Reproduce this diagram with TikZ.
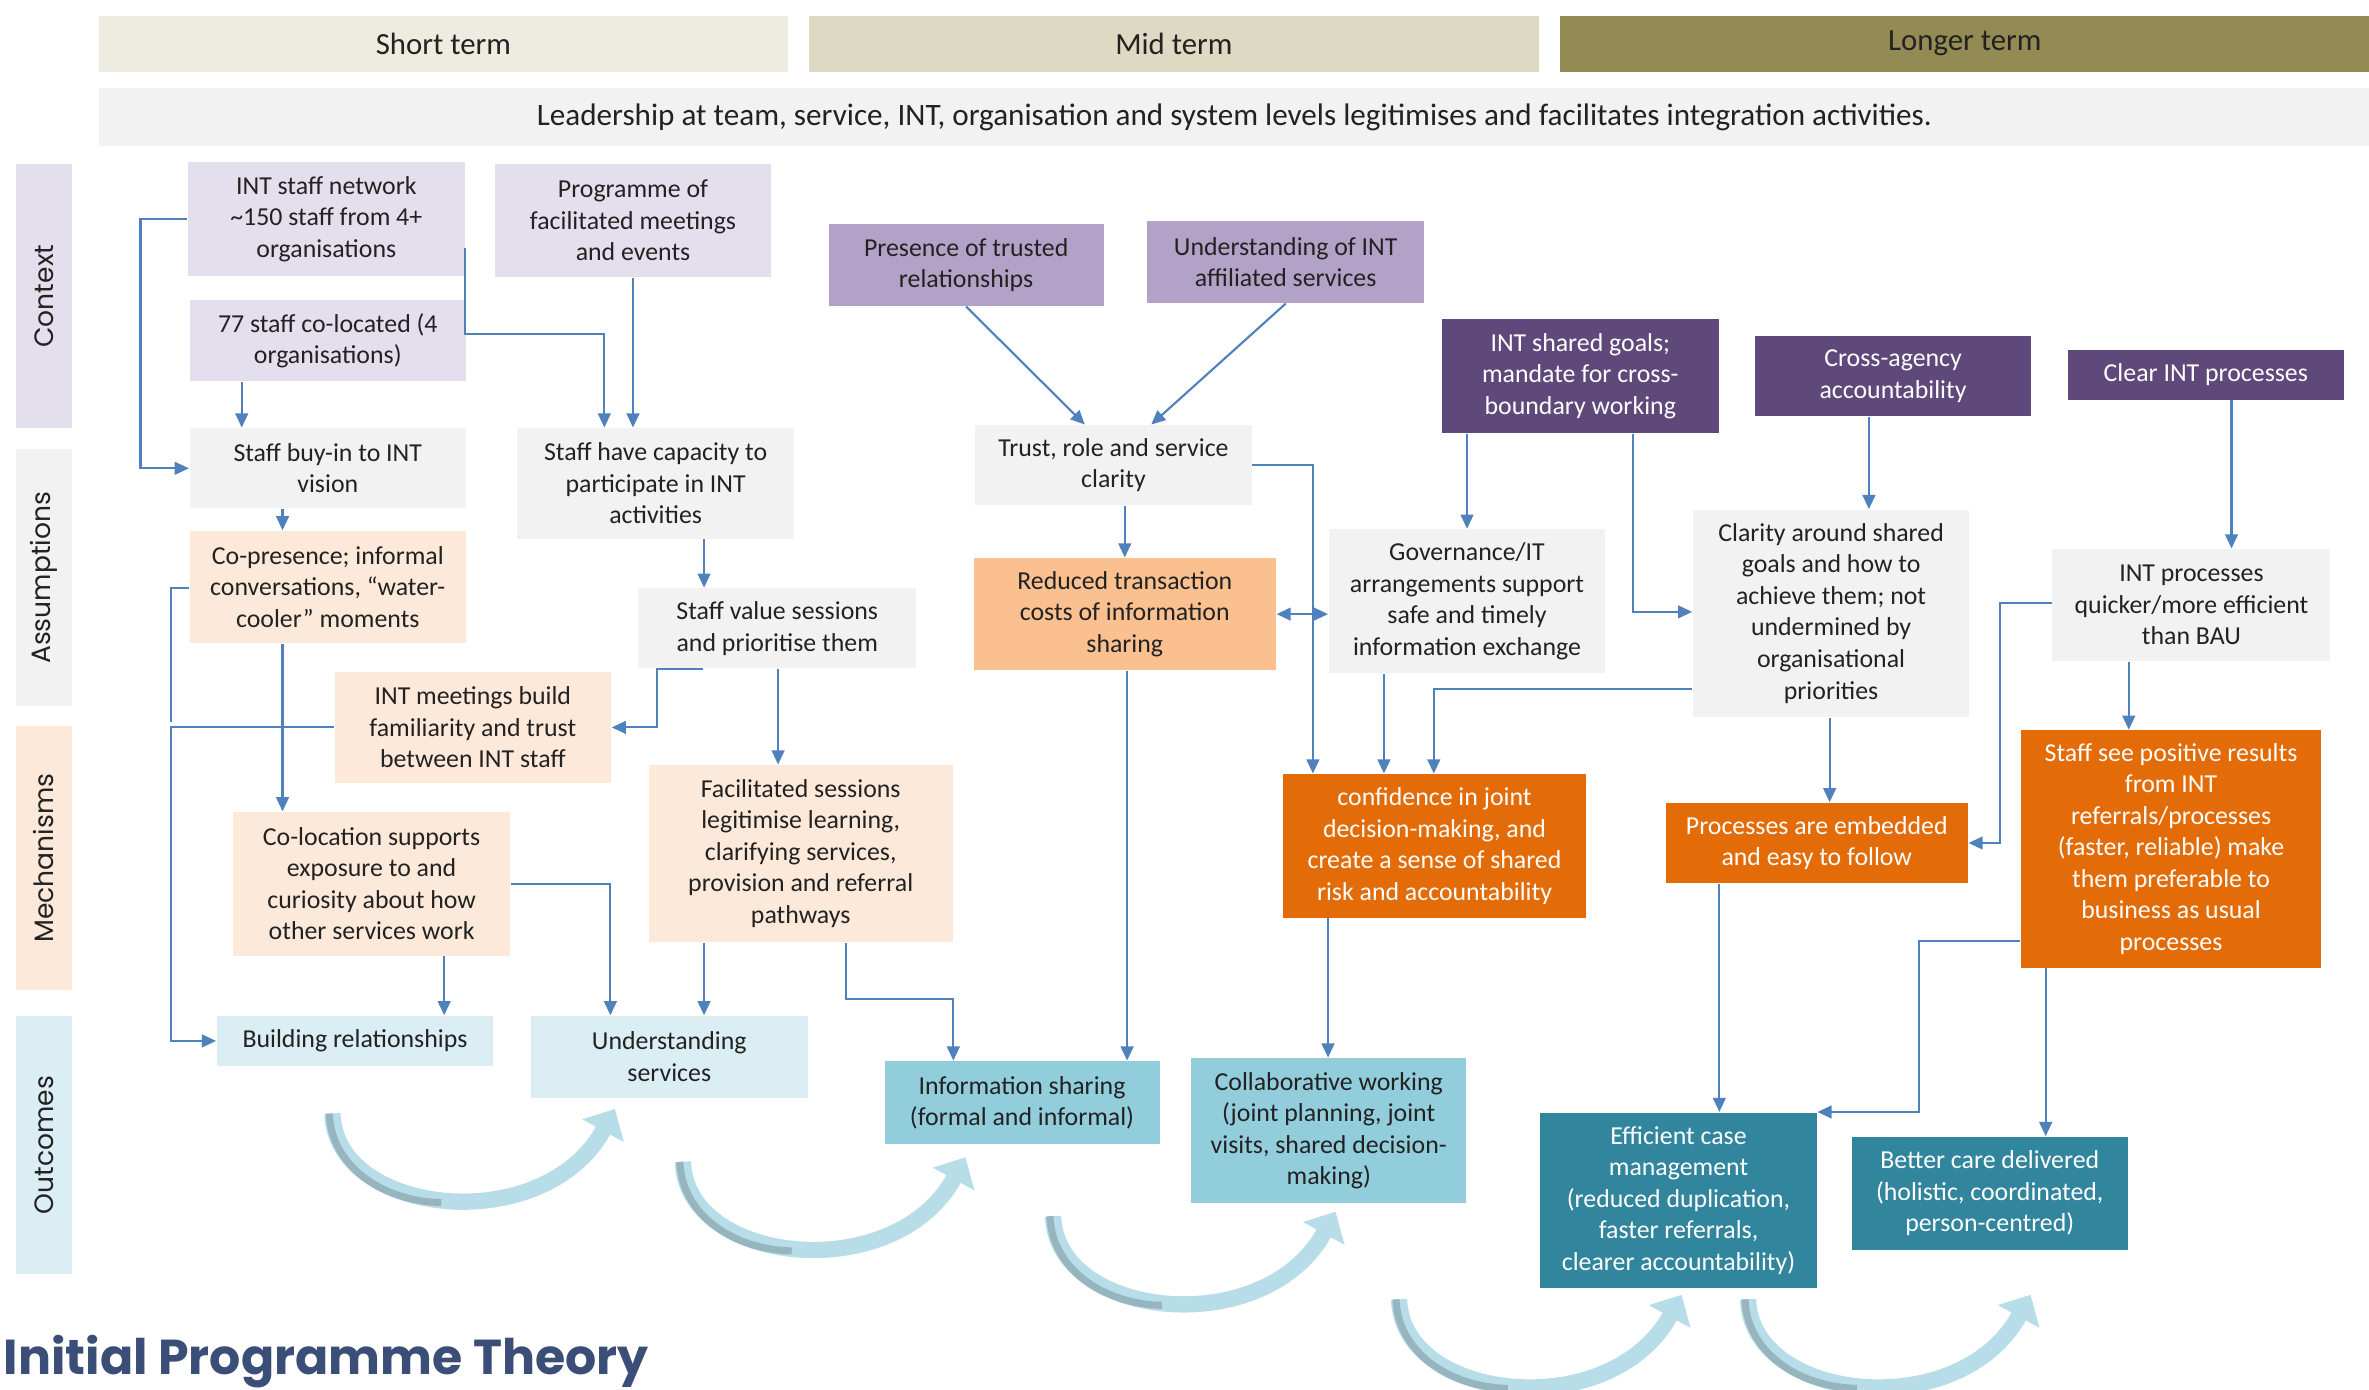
\documentclass[tikz,border=0pt]{standalone}
\usepackage{fontspec}
\setmainfont{Carlito}
\newfontfamily\labfont{Poppins}
\usetikzlibrary{arrows.meta,calc}
\definecolor{hdrA}{HTML}{EEECE1}
\definecolor{hdrB}{HTML}{DDD9C3}
\definecolor{hdrC}{HTML}{948A54}
\definecolor{greyb}{HTML}{F2F2F2}
\definecolor{ctxL}{HTML}{E4DFEC}
\definecolor{ctxM}{HTML}{B3A2C7}
\definecolor{ctxD}{HTML}{5F497A}
\definecolor{peach}{HTML}{FDE9D9}
\definecolor{orM}{HTML}{FAC090}
\definecolor{orD}{HTML}{E36C09}
\definecolor{blL}{HTML}{DAEEF3}
\definecolor{blM}{HTML}{92CDDC}
\definecolor{teal}{HTML}{31859C}
\definecolor{arrc}{HTML}{4F81BD}
\definecolor{curvc}{HTML}{B7DEE8}
\definecolor{curvd}{HTML}{97B5BF}
\definecolor{titlec}{HTML}{3B4E78}
\definecolor{txt}{HTML}{222222}
\newcommand\bx[7]{\node[#2, minimum width={(#5-#3)*0.015cm}, minimum height={(#6-#4)*0.015cm}, anchor=north west] (#1) at (#3,#4) {#7};}
\newcommand\curv[1]{%
  \draw[curvarrow] (#1) .. controls ($(#1)+(2,68)$) and ($(#1)+(140,83)$) .. ($(#1)+(187,-3)$);
  \draw[curvdark] ($(#1)+(-2,0)$) .. controls ($(#1)+(-1,34)$) and ($(#1)+(32,58)$) .. ($(#1)+(72,59)$);
}
\begin{document}
\begin{tikzpicture}[x=0.015cm,y=-0.015cm,
  box/.style={draw=none, inner sep=1pt, align=center, text=txt, font=\fontsize{7.3}{8.9}\selectfont},
  wbox/.style={box, text=white},
  hdr/.style={draw=none, inner sep=0pt, align=center, text=txt, font=\fontsize{8.7}{10}\selectfont},
  lab/.style={draw=none, inner sep=0pt, text=txt, font=\labfont\fontsize{7.5}{9}\selectfont},
  arr/.style={draw=arrc, line width=0.6pt, -{Triangle[length=4pt,width=3.6pt]}},
  darr/.style={draw=arrc, line width=0.6pt, {Triangle[length=4pt,width=3.6pt]}-{Triangle[length=4pt,width=3.6pt]}},
  line/.style={draw=arrc, line width=0.6pt},
  curvarrow/.style={draw=curvc, line width=4.6pt, -{Triangle[length=7pt,width=13pt]}},
  curvdark/.style={draw=curvd, line width=2pt, line cap=butt}
]
\useasboundingbox (0,0) rectangle (1568,920);

% headers
\bx{hS}{hdr, fill=hdrA}{65}{10}{521}{47}{Short term}
\bx{hM}{hdr, fill=hdrB}{535}{10}{1018}{47}{Mid term}
\bx{hL}{hdr, fill=hdrC}{1032}{10}{1568}{47}{Longer term}
\bx{lead}{hdr, fill=greyb, font=\fontsize{8.8}{10}\selectfont}{65}{58}{1568}{96}{Leadership at team, service, INT, organisation and system levels legitimises and facilitates integration activities.}

% row labels
\bx{rC}{draw=none, fill=ctxL}{10}{108}{47}{283}{}
\bx{rA}{draw=none, fill=greyb}{10}{297}{47}{467}{}
\bx{rM}{draw=none, fill=peach}{10}{480}{47}{655}{}
\bx{rO}{draw=none, fill=blL}{10}{672}{47}{843}{}
\node[lab, rotate=90] (tC) at (rC.center) {Context};
\node[lab, rotate=90] (tA) at (rA.center) {Assumptions};
\node[lab, rotate=90] (tM) at (rM.center) {Mechanisms};
\node[lab, rotate=90] (tO) at (rO.center) {Outcomes};

% context
\bx{A1}{box, fill=ctxL}{124}{107}{307}{182}{INT staff network\\\textasciitilde150 staff from 4+\\organisations}
\bx{A2}{box, fill=ctxL}{327}{108}{510}{183}{Programme of\\facilitated meetings\\and events}
\bx{A3}{box, fill=ctxL}{125}{198}{308}{252}{77 staff co-located (4\\organisations)}
\bx{P1}{box, fill=ctxM}{548}{148}{730}{202}{Presence of trusted\\relationships}
\bx{P2}{box, fill=ctxM}{759}{146}{942}{200}{Understanding of INT\\affiliated services}
\bx{D1}{wbox, fill=ctxD}{954}{211}{1137}{286}{INT shared goals;\\mandate for cross-\\boundary working}
\bx{D2}{wbox, fill=ctxD}{1161}{222}{1344}{275}{Cross-agency\\accountability}
\bx{D3}{wbox, fill=ctxD}{1368}{231}{1551}{264}{Clear INT processes}

% assumptions
\bx{S1}{box, fill=greyb}{125}{283}{308}{336}{Staff buy-in to INT\\vision}
\bx{S2}{box, fill=greyb}{342}{283}{525}{356}{Staff have capacity to\\participate in INT\\activities}
\bx{S3}{box, fill=greyb}{645}{281}{828}{334}{Trust, role and service\\clarity}
\bx{S4}{box, fill=greyb}{422}{389}{606}{442}{Staff value sessions\\and prioritise them}
\bx{S5}{box, fill=greyb}{879}{350}{1062}{445}{Governance/IT\\arrangements support\\safe and timely\\information exchange}
\bx{S6}{box, fill=greyb}{1120}{337}{1303}{474}{Clarity around shared\\goals and how to\\achieve them; not\\undermined by\\organisational\\priorities}
\bx{S7}{box, fill=greyb}{1358}{363}{1542}{437}{INT processes\\quicker/more efficient\\than BAU}

% mechanisms
\bx{M1}{box, fill=peach}{125}{351}{308}{425}{Co-presence; informal\\conversations, “water-\\cooler” moments}
\bx{M2}{box, fill=peach}{221}{444}{404}{518}{INT meetings build\\familiarity and trust\\between INT staff}
\bx{M3}{box, fill=peach}{154}{537}{337}{632}{Co-location supports\\exposure to and\\curiosity about how\\other services work}
\bx{M4}{box, fill=peach}{429}{506}{630}{623}{Facilitated sessions\\legitimise learning,\\clarifying services,\\provision and referral\\pathways}
\bx{M5}{box, fill=orM}{644}{369}{844}{443}{Reduced transaction\\costs of information\\sharing}
\bx{M6}{wbox, fill=orD}{849}{512}{1049}{607}{confidence in joint\\decision-making, and\\create a sense of shared\\risk and accountability}
\bx{M7}{wbox, fill=orD}{1102}{531}{1302}{584}{Processes are embedded\\and easy to follow}
\bx{M8}{wbox, fill=orD}{1337}{483}{1536}{640}{Staff see positive results\\from INT\\referrals/processes\\(faster, reliable) make\\them preferable to\\business as usual\\processes}

% outcomes
\bx{O1}{box, fill=blL}{143}{672}{326}{705}{Building relationships}
\bx{O2}{box, fill=blL}{351}{672}{534}{726}{Understanding\\services}
\bx{O3}{box, fill=blM}{585}{702}{767}{757}{Information sharing\\(formal and informal)}
\bx{O4}{box, fill=blM}{788}{700}{970}{796}{Collaborative working\\(joint planning, joint\\visits, shared decision-\\making)}
\bx{O5}{wbox, fill=teal}{1019}{736}{1202}{852}{Efficient case\\management\\(reduced duplication,\\faster referrals,\\clearer accountability)}
\bx{O6}{wbox, fill=teal}{1225}{752}{1408}{827}{Better care delivered\\(holistic, coordinated,\\person-centred)}

% connectors
\draw[arr] (A1.west) -- ++(-31,0) |- (S1.west);
\draw[arr] (A1.east |- 0,164) |- (400,221) -- (S2.north -| 400,0);
\draw[arr] (A2.south) -- (S2.north -| A2.south);
\draw[arr] (A3.south -| 160,0) -- (S1.north -| 160,0);
\draw[arr] (S1.south -| 187,0) -- (M1.north -| 187,0);
\draw[arr] (M1.south -| 187,0) -- (M3.north -| 187,0);
\coordinate (j1) at (113,478);
\draw[line] (M1.west |- 0,389) -| (j1);
\draw[arr] (M2.west) -- (M2.west -| 113,0) |- (O1.west);
\draw[arr] (S2.south -| 466,0) -- (S4.north -| 466,0);
\draw[arr] (S4.south -| 465,0) -- (S4.south -| 435,0) |- (M2.east);
\draw[arr] (S4.south -| 515,0) -- (M4.north -| 515,0);
\draw[arr] (M3.east) -- (M3.east -| 404,0) -- (O2.north -| 404,0);
\draw[arr] (M3.south -| 294,0) -- (O1.north -| 294,0);
\draw[arr] (M4.south -| 466,0) -- (O2.north -| 466,0);
\draw[arr] (M4.south -| 560,0) |- (631,661) -- (O3.north -| 631,0);
\draw[arr] (P1.south) -- (S3.north -| 718,0);
\draw[arr] (P2.south) -- (S3.north -| 762,0);
\draw[arr] (S3.south -| M5.north) -- (M5.north);
\draw[arr] (S3.east) -| (M6.north -| 869,0);
\draw[darr] (M5.east) -- (S5.west |- M5.east);
\draw[arr] (M5.south -| 746,0) -- (O3.north -| 746,0);
\draw[arr] (D1.south -| 971,0) -- (S5.north -| 971,0);
\draw[arr] (D1.south -| 1081,0) |- (S6.west |- 0,405);
\draw[arr] (S5.south -| 916,0) -- (M6.north -| 916,0);
\draw[arr] (S6.west |- 0,456) -| (M6.north -| 949,0);
\draw[arr] (D2.south -| 1237,0) -- (S6.north -| 1237,0);
\draw[arr] (D3.south -| 1477,0) -- (S7.north -| 1477,0);
\draw[arr] (S6.south -| 1211,0) -- (M7.north -| 1211,0);
\draw[arr] (S7.west |- 0,399) -- (1324,399) |- (M7.east);
\draw[arr] (S7.south -| 1409,0) -- (M8.north -| 1409,0);
\draw[arr] (M6.south -| 879,0) -- (O4.north -| 879,0);
\draw[arr] (M7.south -| 1138,0) -- (O5.north -| 1138,0);
\draw[arr] (M8.west |- 0,623) -- (1270,623) |- (O5.north east);
\draw[arr] (M8.south -| 1354,0) -- (O6.north -| 1354,0);

% curved arrows
\coordinate (c1) at (220,737);
\coordinate (c2) at (452,769);
\coordinate (c3) at (697,805);
\coordinate (c4) at (926,860);
\coordinate (c5) at (1157,860);
\curv{c1}\curv{c2}\curv{c3}\curv{c4}\curv{c5}

% title
\node[anchor=base west, inner sep=0pt, text=titlec] (title) at (2,910) {\resizebox{6.4cm}{0.39cm}{\labfont\bfseries Initial Programme Theory}};
\end{tikzpicture}
\end{document}
